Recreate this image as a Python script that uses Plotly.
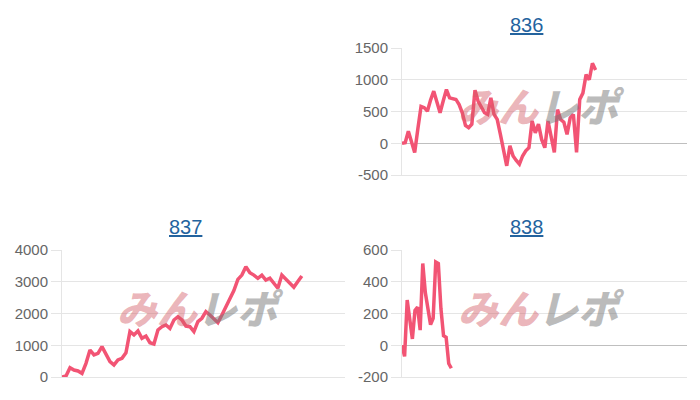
import plotly.graph_objects as go

# ---- data ----
titles = ["836", "837", "838"]

s836 = [0, 10, 190, 20, -145, 230, 580, 560, 505, 680, 820, 650, 480, 670, 845,
        715, 700, 690, 610, 480, 280, 245, 300, 835, 660, 560, 480, 455, 715, 455,
        375, 140, -120, -355, -40, -200, -270, -330, -200, -120, -70, 350, 165, 300,
        60, -70, 350, 90, -145, 530, 375, 330, 140, 400, 455, -145, 690, 790, 1080,
        1000, 1260, 1155]

s837 = [0, 30, 295, 220, 190, 115, 430, 850, 695, 745, 955, 745, 485, 380, 535,
        590, 765, 1430, 1325, 1450, 1220, 1290, 1080, 1040, 1480, 1585, 1640, 1530,
        1795, 1900, 1795, 1605, 1585, 1430, 1745, 1850, 2060, 1955, 1850, 1710, 1955,
        2195, 2445, 2720, 3075, 3210, 3475, 3285, 3210, 3110, 3210, 3055, 3110, 2950,
        2795, 3210, 3075, 2930, 2825, 3005, 3180]

s838 = [0, -70, 285, 180, 40, 220, 240, 95, 515, 330, 230, 130, 170, 525, 515,
        230, 60, 50, -115, -145]

ticks836 = [-500, 0, 500, 1000, 1500]
ticks837 = [0, 1000, 2000, 3000, 4000]
ticks838 = [-200, 0, 200, 400, 600]

# x-axis extents (number of slots on each category axis)
xmax = [89.8, 70.8, 109.8]

# ---- styling ----
LINE = "#f25474"
GRID = "rgba(0,0,0,0.1)"
ZERO = "rgba(0,0,0,0.25)"
TICKC = "#666666"
FONT = "Liberation Sans, Arial, sans-serif"
W, H = 700, 400


def px_dom_x(a, b):
    return [a / W, b / W]


def px_dom_y(top, bottom):
    return [1 - bottom / H, 1 - top / H]


fig = go.Figure()
series = [s836, s837, s838]
for i, s in enumerate(series):
    sfx = "" if i == 0 else str(i + 1)
    fig.add_trace(go.Scatter(
        x=list(range(len(s))), y=s, mode="lines",
        line=dict(color=LINE, width=3.5, shape="linear"),
        xaxis="x" + sfx, yaxis="y" + sfx, hoverinfo="skip", showlegend=False,
    ))

doms = [
    (px_dom_x(402, 687), px_dom_y(48, 175)),
    (px_dom_x(62, 345), px_dom_y(250, 377)),
    (px_dom_x(402, 687), px_dom_y(250, 377)),
]
ticklists = [ticks836, ticks837, ticks838]

layout = dict(
    template="none",
    width=W, height=H, margin=dict(l=0, r=0, t=0, b=0, pad=0, autoexpand=False),
    paper_bgcolor="white", plot_bgcolor="white",
    font=dict(family=FONT, color=TICKC, size=15),
    showlegend=False,
)
for i in range(3):
    sfx = "" if i == 0 else str(i + 1)
    xd, yd = doms[i]
    tv = ticklists[i]
    layout["xaxis" + sfx] = dict(
        domain=xd, range=[0, xmax[i]], anchor="y" + sfx, automargin=False,
        showgrid=False, zeroline=False, showticklabels=False,
        showline=True, linecolor=GRID, linewidth=1, ticks="",
        fixedrange=True,
    )
    layout["yaxis" + sfx] = dict(
        domain=yd, range=[tv[0], tv[-1]], anchor="x" + sfx, automargin=False,
        tickvals=tv, ticktext=[str(v) for v in tv],
        showgrid=True, gridcolor=GRID, gridwidth=1,
        zeroline=True, zerolinecolor=ZERO, zerolinewidth=1,
        showline=True, linecolor=GRID, linewidth=1,
        ticks="outside", ticklen=10, tickcolor=GRID,
        tickfont=dict(family=FONT, size=15, color=TICKC),
        fixedrange=True,
    )

fig.update_layout(**layout)

# chart titles (link style)
title_pos = [(526, 25), (185, 227), (526, 227)]
for t, (cx, cy) in zip(titles, title_pos):
    fig.add_annotation(
        text="<u>" + t + "</u>", xref="paper", yref="paper",
        x=cx / W, y=1 - cy / H, xanchor="center", yanchor="middle",
        showarrow=False, font=dict(family=FONT, size=20, color="#23639e"),
    )

# watermark
wm = ("<span style='color:rgba(210,90,100,0.45)'>みん</span>"
      "<span style='color:rgba(120,120,120,0.5)'>レポ</span>")
for i in range(3):
    sfx = "" if i == 0 else str(i + 1)
    fig.add_annotation(
        text=wm, xref="x" + sfx + " domain", yref="y" + sfx + " domain",
        x=0.49, y=0.55, xanchor="center", yanchor="middle", showarrow=False,
        font=dict(family="Noto Sans CJK JP", size=40, weight=900, style="italic"),
    )

fig.write_html("out.html", config={"displayModeBar": False},
               post_script="document.body.style.margin='0';")
